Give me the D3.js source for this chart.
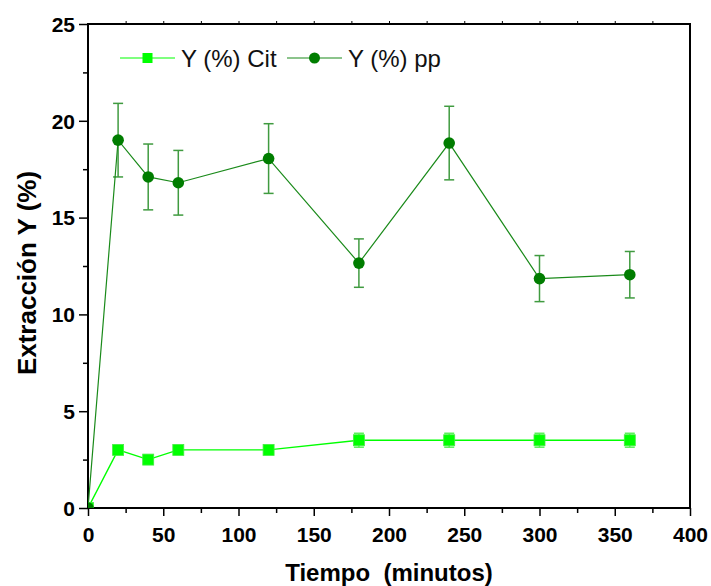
<!DOCTYPE html>
<html>
<head>
<meta charset="utf-8">
<script src="https://cdn.jsdelivr.net/npm/d3@7"></script>
<style>
  html, body { margin: 0; padding: 0; background: #fff; }
  svg { display: block; font-family: "Liberation Sans", Arial, sans-serif; }
</style>
</head>
<body>
<svg id="chart" width="711" height="586"></svg>
<script>
// Extraction yield over time for two samples
const times = [0, 20, 40, 60, 120, 180, 240, 300, 360];
const yieldCit = [0, 3.0, 2.5, 3.0, 3.0, 3.5, 3.5, 3.5, 3.5];
const errCit = [0, 0.15, 0.15, 0.15, 0.15, 0.36, 0.36, 0.36, 0.36];
const yieldPp = [0, 19.0, 17.1, 16.8, 18.05, 12.65, 18.85, 11.85, 12.05];
const errPp = [0, 1.9, 1.7, 1.67, 1.8, 1.25, 1.9, 1.19, 1.2];
const xTicks = [0, 50, 100, 150, 200, 250, 300, 350, 400];
const yTicks = [0, 5, 10, 15, 20, 25];
const seriesNames = ["Y (%) Cit", "Y (%) pp"];

const svg = d3.select("#chart");
const plotLeft = 88, plotRight = 690, plotTop = 24, plotBottom = 508;

const x = d3.scaleLinear().domain([0, 400]).range([plotLeft, plotRight]);
const y = d3.scaleLinear().domain([0, 25]).range([plotBottom, plotTop]);

const citColor = "#00ff00";
const ppColor = "#007d00";

// Frame
svg.append("rect")
  .attr("x", plotLeft).attr("y", plotTop)
  .attr("width", plotRight - plotLeft).attr("height", plotBottom - plotTop)
  .attr("fill", "none").attr("stroke", "#000").attr("stroke-width", 2);

// Bottom axis: major + minor ticks
const gx = svg.append("g").attr("transform", `translate(0,${plotBottom})`);
gx.call(d3.axisBottom(x).tickValues(d3.range(25, 400, 50)).tickSize(5).tickFormat(""))
  .call(g => g.select(".domain").remove());
gx.append("g").call(d3.axisBottom(x).tickValues(xTicks).tickSize(8).tickFormat(d3.format("d")))
  .call(g => g.select(".domain").remove())
  .call(g => g.selectAll("text")
    .attr("dy", 0).attr("y", 34)
    .attr("font-size", 21).attr("font-weight", "bold")
    .attr("font-family", "Liberation Sans, Arial, sans-serif").attr("fill", "#000"));
gx.selectAll("line").attr("stroke", "#000").attr("stroke-width", 1.5);

// Top frame ticks
const gt = svg.append("g").attr("transform", `translate(0,${plotTop})`);
gt.call(d3.axisTop(x).tickValues(d3.range(25, 400, 25)).tickSize(3).tickFormat(""))
  .call(g => g.select(".domain").remove());
gt.selectAll("line").attr("stroke", "#000").attr("stroke-width", 1);

// Left axis
const gy = svg.append("g").attr("transform", `translate(${plotLeft},0)`);
gy.call(d3.axisLeft(y).tickValues(d3.range(2.5, 25, 5)).tickSize(5).tickFormat(""))
  .call(g => g.select(".domain").remove());
gy.append("g").call(d3.axisLeft(y).tickValues(yTicks).tickSize(9).tickFormat(d3.format("d")))
  .call(g => g.select(".domain").remove())
  .call(g => g.selectAll("text")
    .attr("x", -13).attr("dy", "0.35em")
    .attr("font-size", 21).attr("font-weight", "bold")
    .attr("font-family", "Liberation Sans, Arial, sans-serif").attr("fill", "#000"));
gy.selectAll("line").attr("stroke", "#000").attr("stroke-width", 1.5);

// Axis titles
svg.append("text")
  .attr("x", (plotLeft + plotRight) / 2).attr("y", 581)
  .attr("text-anchor", "middle")
  .attr("font-size", 24).attr("font-weight", "bold")
  .style("white-space", "pre")
  .text("Tiempo  (minutos)");

svg.append("text")
  .attr("transform", `translate(36,273) rotate(-90)`)
  .attr("text-anchor", "middle")
  .attr("font-size", 26).attr("font-weight", "bold")
  .text("Extracción Y (%)");

// Clip marks to the plotting area
svg.append("clipPath").attr("id", "plotClip")
  .append("rect").attr("x", plotLeft).attr("y", plotTop)
  .attr("width", plotRight - plotLeft).attr("height", plotBottom - plotTop);

const plot = svg.append("g").attr("clip-path", "url(#plotClip)");

const citData = times.map((t, i) => ({ t, v: yieldCit[i], e: errCit[i] }));
const ppData = times.map((t, i) => ({ t, v: yieldPp[i], e: errPp[i] }));

const line = d3.line().x(d => x(d.t)).y(d => y(d.v));

function errorBars(data, color, opacity) {
  const g = plot.append("g").attr("stroke", color).attr("stroke-width", 1.5).attr("opacity", opacity);
  data.filter(d => d.e > 0).forEach(d => {
    const cx = x(d.t), y1 = y(d.v + d.e), y2 = y(d.v - d.e);
    g.append("line").attr("x1", cx).attr("x2", cx).attr("y1", y1).attr("y2", y2);
    g.append("line").attr("x1", cx - 5).attr("x2", cx + 5).attr("y1", y1).attr("y2", y1);
    g.append("line").attr("x1", cx - 5).attr("x2", cx + 5).attr("y1", y2).attr("y2", y2);
  });
}

// pp series (circles)
errorBars(ppData, "#1f8a1f", 0.85);
plot.append("path").datum(ppData)
  .attr("d", line).attr("fill", "none").attr("stroke", "#1a8a1a").attr("stroke-width", 1.2);

// Cit series (squares)
errorBars(citData, "#33ee33", 0.8);
plot.append("path").datum(citData)
  .attr("d", line).attr("fill", "none").attr("stroke", citColor).attr("stroke-width", 1.4);

plot.selectAll("rect.cit").data(citData).join("rect")
  .attr("class", "cit")
  .attr("x", d => x(d.t) - 5.5).attr("y", d => y(d.v) - 5.5)
  .attr("width", 11).attr("height", 11)
  .attr("fill", citColor).attr("stroke", "#44ee44").attr("stroke-width", 0.8);

plot.selectAll("circle.pp").data(ppData).join("circle")
  .attr("class", "pp")
  .attr("cx", d => x(d.t)).attr("cy", d => y(d.v)).attr("r", 5.8)
  .attr("fill", ppColor);

// Legend
const legendY = 58;
const lg = svg.append("g");
const entries = [
  { name: seriesNames[0], x0: 120, color: citColor, lineColor: citColor, shape: "square" },
  { name: seriesNames[1], x0: 287, color: ppColor, lineColor: "#1a8a1a", shape: "circle" }
];
entries.forEach(en => {
  lg.append("line")
    .attr("x1", en.x0).attr("x2", en.x0 + 55)
    .attr("y1", legendY).attr("y2", legendY)
    .attr("stroke", en.lineColor).attr("stroke-width", 1.2);
  if (en.shape === "square") {
    lg.append("rect").attr("x", en.x0 + 27.5 - 5).attr("y", legendY - 5)
      .attr("width", 10).attr("height", 10).attr("fill", en.color);
  } else {
    lg.append("circle").attr("cx", en.x0 + 27.5).attr("cy", legendY).attr("r", 5.5)
      .attr("fill", en.color);
  }
  lg.append("text")
    .attr("x", en.x0 + 61).attr("y", legendY)
    .attr("dy", "0.36em")
    .attr("font-size", 24)
    .attr("fill", "#111")
    .text(en.name);
});
</script>
</body>
</html>
